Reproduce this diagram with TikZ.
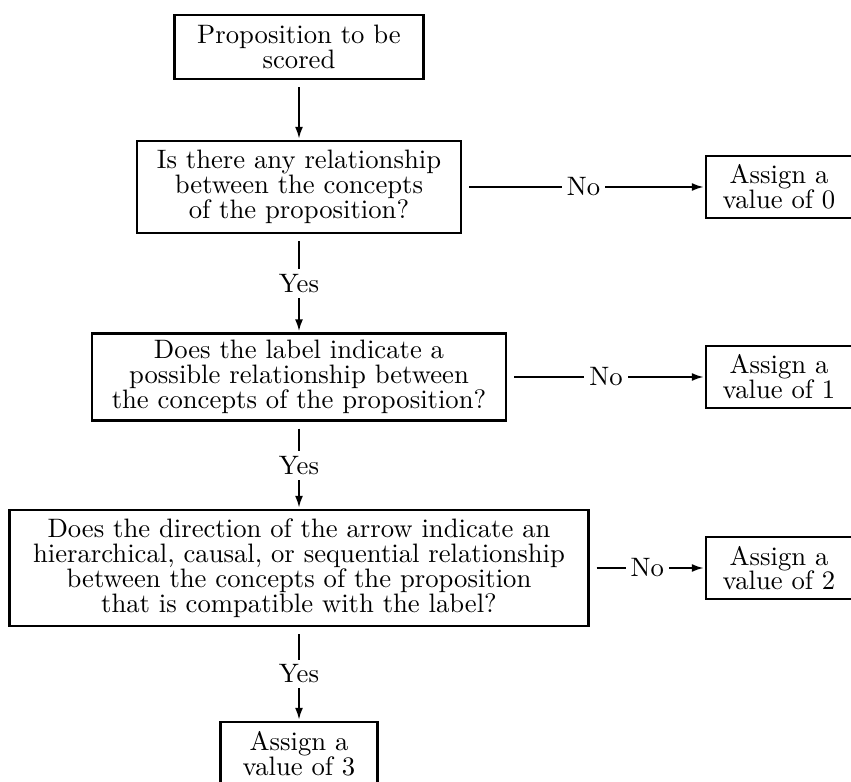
\documentclass[tikz,border=0pt]{standalone}
\usetikzlibrary{arrows.meta}
\begin{document}
\begin{tikzpicture}[x=0.375pt,y=-0.375pt,
  box/.style={draw, line width=0.85pt, align=center, inner sep=0pt, font=\fontsize{10}{9.3}\selectfont},
  conn/.style={line width=0.75pt, -{Latex[length=4.5pt,width=3pt]}, shorten <=2.6pt, shorten >=0.4pt},
  lbl/.style={fill=white, inner sep=1.9pt, font=\fontsize{10}{12}\selectfont}]
\useasboundingbox (0,0) rectangle (851,782);
% main column
\node[box, minimum width=93.4pt, minimum height=24pt] (b1) at (299,47) {Proposition to be\\scored};
\node[box, minimum width=121.5pt, minimum height=34.5pt] (b2) at (299,187) {Is there any relationship\\between the concepts\\of the proposition?};
\node[box, minimum width=155.25pt, minimum height=32.6pt] (b3) at (299,377) {Does the label indicate a\\possible relationship between\\the concepts of the proposition?};
\node[box, minimum width=217.1pt, minimum height=43.5pt] (b4) at (299,568) {Does the direction of the arrow indicate an\\hierarchical, causal, or sequential relationship\\between the concepts of the proposition\\that is compatible with the label?};
\node[box, minimum width=58.9pt, minimum height=24pt] (b5) at (299,754) {Assign a\\value of 3};
% right column
\node[box, minimum width=54.75pt, minimum height=23.25pt] (r0) at (779,187) {Assign a\\value of 0};
\node[box, minimum width=54.75pt, minimum height=23.25pt] (r1) at (779,377) {Assign a\\value of 1};
\node[box, minimum width=54.75pt, minimum height=23.25pt] (r2) at (779,568) {Assign a\\value of 2};
% connectors
\draw[conn] (b1) -- (b2);
\draw[conn] (b2) -- node[lbl]{Yes} (b3);
\draw[conn] (b3) -- node[lbl]{Yes} (b4);
\draw[conn] (b4) -- node[lbl]{Yes} (b5);
\draw[conn] (b2) -- node[lbl]{No} (r0);
\draw[conn] (b3) -- node[lbl]{No} (r1);
\draw[conn] (b4) -- node[lbl]{No} (r2);
\end{tikzpicture}
\end{document}
